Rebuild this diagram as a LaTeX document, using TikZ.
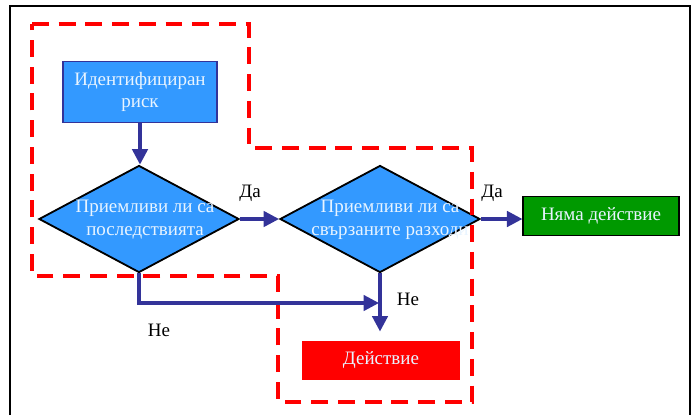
\documentclass[tikz,border=0pt]{standalone}
\usepackage{fontspec}
\setmainfont{Liberation Serif}
\usetikzlibrary{shapes.geometric,arrows.meta}
\definecolor{boxblue}{HTML}{3399FF}
\definecolor{linkblue}{HTML}{333399}
\definecolor{okgreen}{HTML}{009900}
\definecolor{txtlight}{HTML}{E8F4FF}

\begin{document}
\begin{tikzpicture}[x=0.025cm, y=-0.025cm, thick,
    box/.style = {draw=linkblue, line width=0.8pt, fill=boxblue, text=txtlight, align=center,
                  minimum width=3.85cm, minimum height=1.525cm, font=\fontsize{13.5}{15.5}\selectfont},
    quest/.style = {draw=black, line width=1.3pt, fill=boxblue, diamond, inner sep=0pt,
                    minimum width=5cm, minimum height=2.675cm},
    qtext/.style = {text=txtlight, align=center, font=\fontsize{13.5}{16.5}\selectfont},
    result/.style = {line width=0.8pt, text=txtlight, minimum height=0.975cm,
                     font=\fontsize{13.5}{15.5}\selectfont},
    lbl/.style = {font=\fontsize{13.5}{15.5}\selectfont},
    link/.style = {draw=linkblue, line width=2.3pt, -{Triangle[length=11pt,width=11pt]}},
    zone/.style = {draw=red, line width=2.8pt, dash pattern=on 12pt off 7pt}]
\useasboundingbox (0,0) rectangle (696,415);
\draw[line width=1.2pt] (10,415) -- (10,6) -- (690,6) -- (690,415);

    \node[box] (risk) at (140,92) {Идентифициран\\риск};
    \node[quest] (d1) at (139,219) {};
    \node[quest] (d2) at (380,219) {};
    \node[qtext] (d1t) at (145,220) {Приемливи ли са\\последствията};
    \node[qtext] (d2t) at (390,220) {Приемливи ли са\\свързаните разходи};
    \node[result, draw=black, fill=okgreen, minimum width=3.9cm] (noact) at (601,216) {Няма действие};
    \node[result, fill=red, minimum width=3.95cm] (act) at (381,360) {Действие};

% red dashed zone
\draw[zone] (32,24) -- (249,24) -- (249,148) -- (472,148) -- (472,402) -- (278,402)
    -- (278,276) -- (32,276) -- cycle;

\coordinate (jn) at (379,303);
\draw[link] (risk.south) -- (risk.south |- d1.north);
\draw[link] (d1) -- (d2);
\draw[link] (d2.east) -- (d2.east -| noact.west);
\draw[link] (d1.south) |- (jn);
\draw[link, shorten >=6pt] (d2.south) -- (d2.south |- act.north);

    \node[lbl] (yes1) at (250,193) {Да};
    \node[lbl] (yes2) at (492,193) {Да};
    \node[lbl] (no1) at (408,299) {Не};
    \node[lbl] (no2) at (159,330) {Не};

\end{tikzpicture}
\end{document}
